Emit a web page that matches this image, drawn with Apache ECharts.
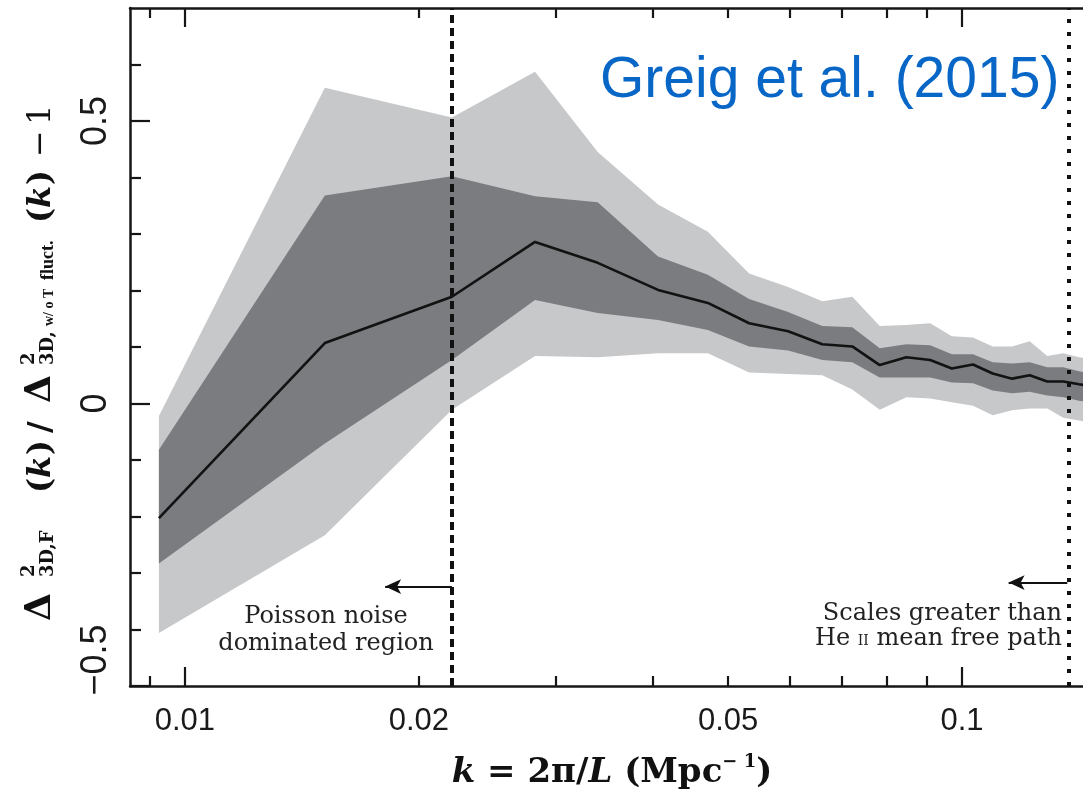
<!DOCTYPE html>
<html><head><meta charset="utf-8">
<script src="https://cdn.jsdelivr.net/npm/echarts@6/dist/echarts.min.js"></script>
<style>html,body{margin:0;padding:0;background:#fff}#c{width:1083px;height:793px}</style>
</head><body><div id="c"></div>
<script>
// ---- data ----
const kValues    = [0.00926, 0.01514, 0.02206, 0.02822, 0.03398, 0.04063, 0.04709, 0.05322, 0.05973, 0.06610, 0.07224, 0.07836, 0.08479, 0.09100, 0.09702, 0.1033, 0.1095, 0.1160, 0.1222, 0.1287, 0.1350, 0.1414, 0.1478];
const meanValues = [-0.203, 0.107, 0.189, 0.286, 0.249, 0.201, 0.178, 0.142, 0.128, 0.105, 0.101, 0.068, 0.082, 0.077, 0.062, 0.069, 0.053, 0.044, 0.050, 0.039, 0.039, 0.034, 0.030];
const innerUpper = [-0.082, 0.368, 0.402, 0.367, 0.356, 0.260, 0.228, 0.185, 0.162, 0.137, 0.135, 0.098, 0.105, 0.103, 0.087, 0.087, 0.073, 0.071, 0.073, 0.064, 0.064, 0.057, 0.052];
const innerLower = [-0.283, -0.071, 0.077, 0.183, 0.160, 0.148, 0.130, 0.101, 0.094, 0.077, 0.073, 0.046, 0.046, 0.046, 0.037, 0.036, 0.023, 0.018, 0.021, 0.014, 0.011, 0.005, 0.002];
const outerUpper = [-0.022, 0.559, 0.506, 0.587, 0.445, 0.352, 0.304, 0.230, 0.206, 0.181, 0.189, 0.137, 0.139, 0.142, 0.119, 0.117, 0.101, 0.101, 0.110, 0.084, 0.089, 0.082, 0.078];
const outerLower = [-0.406, -0.233, -0.011, 0.084, 0.082, 0.089, 0.089, 0.055, 0.052, 0.050, 0.025, -0.011, 0.011, 0.009, 0.002, -0.004, -0.021, -0.012, -0.009, -0.009, -0.025, -0.030, -0.035];

const xLabelValues      = [0.01, 0.02, 0.05, 0.1];
const xMinorTickValues  = [0.009, 0.02, 0.03, 0.04, 0.05, 0.06, 0.07, 0.08, 0.09];
const xMajorTickValues  = [0.01, 0.1];
const yLabelValues      = [-0.5, 0, 0.5];
const yMinorTickValues  = [-0.4, -0.3, -0.2, -0.1, 0.1, 0.2, 0.3, 0.4, 0.6];
const yMajorTickValues  = [-0.5, 0, 0.5];

const poissonLimitK = 0.02206;
const mfpLimitK     = 0.1373;
const poissonArrow  = {from: 0.02206, to: 0.0181, y: -0.324};
const mfpArrow      = {from: 0.1366, to: 0.1148, y: -0.317};

// ---- chart ----
const chart = echarts.init(document.getElementById('c'), null, {renderer: 'canvas'});
const AX = '#161616';
const X_MIN = 0.0085, X_MAX = 0.1431;
const Y_MIN = -0.5, Y_MAX = 0.7;

function xAxisDef(pos, ticks, len, showLine, labels) {
  return {
    type: 'log', logBase: 10, min: X_MIN, max: X_MAX, position: pos,
    axisLine: {show: showLine, onZero: false, lineStyle: {color: AX, width: 2.5}},
    axisTick: {show: true, inside: true, length: len, customValues: ticks, lineStyle: {color: AX, width: 2.2}},
    axisLabel: labels ? {
      show: true, customValues: labels, margin: 20,
      fontFamily: '"Liberation Sans", Arial, sans-serif',
      fontSize: 31, color: '#1a1a1a',
      formatter: v => String(+(+v).toPrecision(3))
    } : {show: false},
    splitLine: {show: false}, minorTick: {show: false}
  };
}
function yAxisDef(ticks, len, showLine, labels) {
  return {
    type: 'value', min: Y_MIN, max: Y_MAX, position: 'left',
    axisLine: {show: showLine, onZero: false, lineStyle: {color: AX, width: 2.5}},
    axisTick: {show: true, inside: true, length: len, customValues: ticks, lineStyle: {color: AX, width: 2.2}},
    axisLabel: labels ? {
      show: true, customValues: labels, rotate: 90, margin: 16,
      fontFamily: '"Liberation Sans", Arial, sans-serif', fontSize: 36, color: '#1a1a1a',
      formatter: function (v) {
        if (Math.abs(v) < 1e-9) return '0';
        const s = String(+(+v).toFixed(2)).replace('-', '\u2212');
        return v < -0.4 ? '{low|' + s + '}' : s;
      },
      rich: {low: {fontFamily: '"Liberation Sans", Arial, sans-serif', fontSize: 36, color: '#1a1a1a', padding: [0, 0, 0, 52]}}
    } : {show: false},
    splitLine: {show: false}
  };
}

function bandSeries(upper, lower, color, z) {
  return {
    type: 'custom', xAxisIndex: 0, yAxisIndex: 0, z: z, silent: true,
    data: [[kValues[0], lower[0]]],
    renderItem: function (params, api) {
      const pts = [];
      for (let i = 0; i < kValues.length; i++) pts.push(api.coord([kValues[i], upper[i]]));
      for (let i = kValues.length - 1; i >= 0; i--) pts.push(api.coord([kValues[i], lower[i]]));
      return {type: 'polygon', shape: {points: pts}, style: {fill: color}};
    }
  };
}

const serif = '"DejaVu Serif", "Liberation Serif", serif';
const tSerif = '"Liberation Serif", "DejaVu Serif", serif';

// text placed by its baseline (approximated via bottom alignment)
function tx(x, yBase, text, size, opts) {
  opts = opts || {};
  return {
    type: 'text', x: x, y: yBase + 0.24 * size, silent: true,
    style: Object.assign({
      text: text, fontSize: size, fontFamily: serif, fontWeight: 'bold',
      fill: '#111', align: 'left', verticalAlign: 'bottom'
    }, opts)
  };
}

// y axis title, laid out along the rotated baseline
const yTitle = {
  type: 'group', x: 50, y: 621, rotation: Math.PI / 2, silent: true,
  children: [
    tx(0, 0, '\u0394', 36),
    tx(44, -16, '2', 18),
    tx(44, 3, '3D,F', 18),
    tx(128, 0, '(', 32),
    tx(143, 0, 'k', 32, {fontStyle: 'italic'}),
    tx(166, 0, ')', 32),
    tx(188, 0, '/', 32),
    tx(218, 0, '\u0394', 36),
    tx(256, -16, '2', 18),
    tx(256, 3, '3D,', 18),
    tx(295, 3, 'w/ o T', 14, {fontFamily: tSerif}),
    tx(341, 3, 'fluct.', 18, {fontFamily: tSerif}),
    tx(398, 0, '(', 32),
    tx(413, 0, 'k', 32, {fontStyle: 'italic'}),
    tx(436, 0, ')', 32),
    tx(464, 0, '\u2212', 32, {fontWeight: 'normal'}),
    tx(496, 0, '1', 32, {fontWeight: 'normal'})
  ]
};

const annoStyle = {fontFamily: serif, fontSize: 24, fill: '#222'};

const option = {
  animation: false,
  backgroundColor: '#ffffff',
  grid: {left: 130, top: 8, right: 0, bottom: 107, containLabel: false},
  xAxis: [
    xAxisDef('bottom', xMinorTickValues, 10, true, xLabelValues),
    xAxisDef('bottom', xMajorTickValues, 19, false, null),
    xAxisDef('top', xMinorTickValues, 10, true, null),
    xAxisDef('top', xMajorTickValues, 19, false, null)
  ],
  yAxis: [
    yAxisDef(yMinorTickValues, 11, true, yLabelValues),
    yAxisDef(yMajorTickValues, 20, false, null)
  ],
  series: [
    bandSeries(outerUpper, outerLower, '#c7c8ca', 1),
    bandSeries(innerUpper, innerLower, '#7b7c80', 2),
    {
      type: 'line', xAxisIndex: 0, yAxisIndex: 0, z: 3,
      data: kValues.map((k, i) => [k, meanValues[i]]),
      showSymbol: false, symbol: 'none', smooth: false,
      lineStyle: {color: '#121212', width: 2.6},
      markLine: {
        silent: true, symbol: ['none', 'none'], label: {show: false}, animation: false,
        data: [
          [
            {coord: [poissonLimitK, Y_MIN], symbol: 'none', lineStyle: {color: '#111', width: 4, type: [8, 5]}},
            {coord: [poissonLimitK, Y_MAX], symbol: 'none'}
          ],
          [
            {coord: [mfpLimitK, Y_MIN], symbol: 'none', lineStyle: {color: '#111', width: 4, type: [4, 9]}},
            {coord: [mfpLimitK, Y_MAX], symbol: 'none'}
          ],
          [
            {coord: [poissonArrow.from, poissonArrow.y], symbol: 'none', lineStyle: {color: '#111', width: 2, type: 'solid'}},
            {coord: [poissonArrow.to, poissonArrow.y], symbol: 'arrow', symbolSize: [11, 16]}
          ],
          [
            {coord: [mfpArrow.from, mfpArrow.y], symbol: 'none', lineStyle: {color: '#111', width: 2, type: 'solid'}},
            {coord: [mfpArrow.to, mfpArrow.y], symbol: 'arrow', symbolSize: [11, 16]}
          ]
        ]
      }
    }
  ],
  graphic: [
    yTitle,
    {
      type: 'text', x: 612, y: 773, silent: true,
      style: {
        text: '{i|k}{b| = 2\u03c0/}{i|L}{b| (Mpc}{s|\u2212 1}{b|)}',
        align: 'center', verticalAlign: 'middle',
        rich: {
          i: {fontFamily: serif, fontWeight: 'bold', fontStyle: 'italic', fontSize: 34, fill: '#111', lineHeight: 40},
          b: {fontFamily: serif, fontWeight: 'bold', fontSize: 34, fill: '#111', lineHeight: 40},
          s: {fontFamily: serif, fontWeight: 'bold', fontSize: 18, fill: '#111', lineHeight: 40, verticalAlign: 'top'}
        }
      }
    },
    tx(326, 623, 'Poisson noise', 24, {align: 'center', fontWeight: 'normal', fill: '#222'}),
    tx(326, 650, 'dominated region', 24, {align: 'center', fontWeight: 'normal', fill: '#222'}),
    tx(1062, 620, 'Scales greater than', 24, {align: 'right', fontWeight: 'normal', fill: '#222'}),
    {
      type: 'text', x: 1062, y: 645 + 0.24 * 24, silent: true,
      style: {
        text: '{a|He }{s|II}{a| mean free path}', align: 'right', verticalAlign: 'bottom',
        rich: {
          a: Object.assign({verticalAlign: 'bottom'}, annoStyle),
          s: {fontFamily: serif, fontSize: 14, fill: '#222', verticalAlign: 'bottom', padding: [0, 0, 2, 0]}
        }
      }
    },
    {
      type: 'text', x: 600, y: 81, silent: true, z: 10,
      style: {
        text: 'Greig et al. (2015)', fontFamily: '"Liberation Sans", Arial, Helvetica, sans-serif',
        fontSize: 57, fill: '#0766c6', align: 'left', verticalAlign: 'middle'
      }
    }
  ]
};
chart.setOption(option);
</script>
</body></html>
